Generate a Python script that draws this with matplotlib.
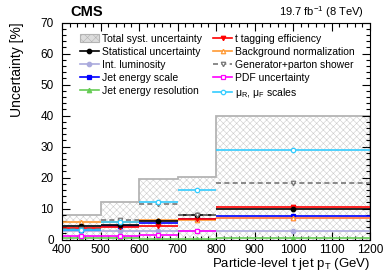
import numpy as np
import matplotlib
matplotlib.use('Agg')
import matplotlib.pyplot as plt
from matplotlib.lines import Line2D
from matplotlib.patches import Patch

plt.rcParams['font.family'] = ['Liberation Sans', 'DejaVu Sans']
plt.rcParams['mathtext.fontset'] = 'custom'
plt.rcParams['mathtext.rm'] = 'Liberation Sans'
plt.rcParams['mathtext.it'] = 'Liberation Sans:italic'
plt.rcParams['mathtext.bf'] = 'Liberation Sans:bold'
plt.rcParams['hatch.linewidth'] = 0.4

# Data (uncertainties in %, per pT bin)
edges = [400, 500, 600, 700, 800, 1200]
total = [7.8, 12.1, 19.6, 20.3, 40.0]
stat = [4.4, 4.6, 5.9, 8.0, 9.7]
lumi = [2.6, 2.6, 2.6, 2.6, 2.6]
jes = [3.0, 4.2, 5.4, 6.6, 7.5]
jer = [0.5, 0.4, 0.3, 0.3, 0.4]
ttag = [3.7, 3.9, 4.5, 6.6, 10.6]
bkg = [5.8, 5.7, 6.2, 6.4, 7.0]
gen = [3.4, 6.2, 11.5, 7.8, 18.2]
pdf = [1.0, 1.0, 1.6, 2.9, 7.0]
scale = [3.2, 5.8, 12.1, 15.9, 28.8]

edges = np.array(edges)
centers = 0.5 * (edges[:-1] + edges[1:])

fig = plt.figure(figsize=(3.9, 2.8), dpi=100)
ax = fig.add_axes([62 / 390, 1 - 239.5 / 280, (370 - 62) / 390, (239.5 - 22.7) / 280])

# total systematic band
ax.stairs(total, edges, fill=True, hatch='xxxxx', facecolor='white',
          edgecolor='#cccccc', linewidth=0)
ax.stairs(total, edges, color='#b4b4b4', linewidth=1.3)

series = [
    # values, color, marker, filled, linestyle
    (jer, '#66cc55', '^', True, '-'),
    (lumi, '#aaaadd', 'o', True, '-'),
    (pdf, '#ff00ff', 's', False, '-'),
    (jes, '#0000ff', 's', True, '-'),
    (bkg, '#ff9933', '^', False, '-'),
    (ttag, '#ff0000', 'v', True, '-'),
    (stat, '#000000', 'o', True, '-'),
    (gen, '#777777', 'v', False, (0, (3, 2))),
    (scale, '#33ccff', 'o', False, '-'),
]
for vals, col, mk, filled, ls in series:
    ax.hlines(vals, edges[:-1], edges[1:], colors=col, linestyles=[ls], linewidth=1.2)
    ax.plot(centers, vals, mk, color=col, ms=3.2, mew=0.9,
            mfc=col if filled else 'white', ls='none')

ax.set_xlim(400, 1200)
ax.set_ylim(0, 70)
ax.set_xticks(np.arange(400, 1201, 100))
ax.set_xticks(np.arange(400, 1201, 20), minor=True)
ax.set_yticks(np.arange(0, 71, 10))
ax.set_yticks(np.arange(0, 71, 2), minor=True)
ax.tick_params(which='both', direction='in', top=True, right=True, labelsize=8.5)
ax.tick_params(which='major', length=6, width=0.8)
ax.tick_params(which='minor', length=3, width=0.8)
ax.tick_params(axis='x', pad=3)
ax.tick_params(axis='y', pad=6)

ax.set_xlabel('Particle-level t jet p$_\\mathrm{T}$ (GeV)', fontsize=9.5, ha='right', x=1.0, labelpad=0)
ax.set_ylabel('Uncertainty [%]', fontsize=10, ha='right', y=1.0, labelpad=12)

fig.text(70 / 390, 1 - 16 / 280, 'CMS', fontsize=10.5, fontweight='bold', va='baseline')
fig.text(364 / 390, 1 - 16 / 280, '19.7 fb$^{-1}$ (8 TeV)', fontsize=8, ha='right', va='baseline')

def h(col, mk, filled, ls='-'):
    return Line2D([], [], color=col, marker=mk, ms=3.2, mew=0.9, lw=1.2, ls=ls,
                  mfc=col if filled else 'white')

handles = [
    Patch(facecolor='#dddddd', edgecolor='#b4b4b4', hatch='xxxx', linewidth=0.8),
    h('#000000', 'o', True),
    h('#aaaadd', 'o', True),
    h('#0000ff', 's', True),
    h('#66cc55', '^', True),
    h('#ff0000', 'v', True),
    h('#ff9933', '^', False),
    h('#777777', 'v', False, (0, (3, 2))),
    h('#ff00ff', 's', False),
    h('#33ccff', 'o', False),
]
labels = [
    'Total syst. uncertainty', 'Statistical uncertainty', 'Int. luminosity',
    'Jet energy scale', 'Jet energy resolution',
    't tagging efficiency', 'Background normalization', 'Generator+parton shower',
    'PDF uncertainty', 'μ$_\\mathrm{R}$, μ$_\\mathrm{F}$ scales',
]
ax.legend(handles, labels, ncol=2, loc='upper left', frameon=False,
          bbox_to_anchor=(80 / 390, 1 - 34 / 280), bbox_transform=fig.transFigure,
          fontsize=7.5, borderpad=0, borderaxespad=0, handlelength=1.8,
          handletextpad=0.3, columnspacing=1.1, labelspacing=0.28, numpoints=1,
          handleheight=0.8)

fig.savefig('out.png', dpi=100)
